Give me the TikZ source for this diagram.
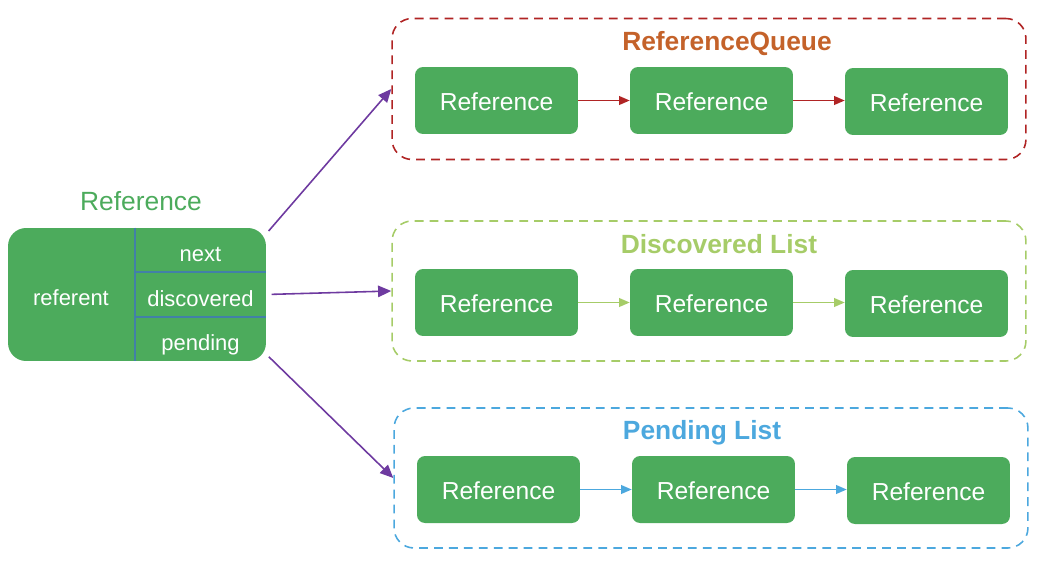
\documentclass[tikz,border=0pt]{standalone}
\usepackage{fontspec}
\setmainfont{Liberation Sans}
\usetikzlibrary{arrows.meta}

\definecolor{refgreen}{RGB}{76,171,92}
\definecolor{divblue}{RGB}{66,128,168}
\definecolor{linkpurple}{RGB}{110,58,160}
\definecolor{queuered}{RGB}{176,36,36}
\definecolor{queuetitle}{RGB}{196,98,42}
\definecolor{discgreen}{RGB}{166,204,104}
\definecolor{pendblue}{RGB}{76,168,222}

\begin{document}
\begin{tikzpicture}[
        x=0.02cm, y=-0.02cm,
        refbox/.style={rectangle, rounded corners=0.16cm, fill=refgreen, text=white, minimum width=3.26cm, minimum height=1.34cm, text height=0.4cm, text depth=0cm, font=\fontsize{14}{16}\selectfont},
        cell/.style={rectangle, inner sep=0pt, text=white, minimum width=2.62cm, text height=0.47cm, text depth=0cm, font=\fontsize{12.5}{15}\selectfont},
        frame/.style={draw=#1, dashed, dash pattern=on 5pt off 3.5pt, line width=0.9pt, rounded corners=0.4cm, minimum width=12.68cm, minimum height=2.82cm},
        grouptitle/.style={text=#1, font=\fontsize{15}{18}\selectfont\bfseries},
        link/.style={-{Triangle[length=6pt, width=5pt]}, line width=0.8pt, draw=#1},
        pointer/.style={-{Triangle[length=7.5pt, width=6.5pt]}, line width=0.9pt, draw=linkpurple, fill=linkpurple},
        divider/.style={draw=divblue, line width=1pt}
    ]
        \useasboundingbox (0,0) rectangle (1062,565);

        % the object on the left
        \node[text=refgreen, font=\fontsize{15}{18}\selectfont] (objtitle) at (141,201) {Reference};
        \node[rectangle, rounded corners=0.36cm, fill=refgreen, minimum width=5.16cm, minimum height=2.66cm] (obj) at (137,294.5) {};
        \node[cell, minimum height=0.88cm] (nextf) at (200.5,250) {next};
        \node[cell, minimum height=0.9cm] (discf) at (200.5,294.5) {discovered};
        \node[cell, minimum height=0.88cm] (pendf) at (200.5,339) {pending};
        \node[text=white, font=\fontsize{12.5}{15}\selectfont] (referent) at (71,298) {referent};
        \draw[divider] (nextf.north west) -- (pendf.south west);
        \draw[divider] (nextf.south west) -- (nextf.south east);
        \draw[divider] (pendf.north west) -- (pendf.south east |- pendf.north);

        % groups
        \node[frame=queuered] (queue) at (709,89) {};
        \node[frame=discgreen, minimum height=2.8cm] (disc) at (709,291) {};
        \node[frame=pendblue, minimum height=2.8cm] (pend) at (711,478) {};

        \node[grouptitle=queuetitle] (queuetitle) at (727,44) {ReferenceQueue};
        \node[grouptitle=discgreen] (disctitle) at (719,244) {Discovered List};
        \node[grouptitle=pendblue] (pendtitle) at (702,433) {Pending List};

        \node[refbox] (q1) at (496.5,100.5) {Reference};
        \node[refbox] (q2) at (711.5,100.5) {Reference};
        \node[refbox] (q3) at (926.5,101.5) {Reference};

        \node[refbox] (d1) at (496.5,302.5) {Reference};
        \node[refbox] (d2) at (711.5,302.5) {Reference};
        \node[refbox] (d3) at (926.5,303.5) {Reference};

        \node[refbox] (p1) at (498.5,489.5) {Reference};
        \node[refbox] (p2) at (713.5,489.5) {Reference};
        \node[refbox] (p3) at (928.5,490.5) {Reference};

        \draw[link=queuered] (q1.east) -- (q2.west |- q1.east);
        \draw[link=queuered] (q2.east) -- (q3.west |- q2.east);
        \draw[link=discgreen] (d1.east) -- (d2.west |- d1.east);
        \draw[link=discgreen] (d2.east) -- (d3.west |- d2.east);
        \draw[link=pendblue] (p1.east) -- (p2.west |- p1.east);
        \draw[link=pendblue] (p2.east) -- (p3.west |- p2.east);

        % fields pointing into the groups
        \draw[pointer, shorten <=2pt] ([yshift=-0.12cm]nextf.north east) -- (queue.west);
        \draw[pointer, shorten <=3pt] (discf.east) -- (disc.west);
        \draw[pointer, shorten <=2pt] ([yshift=0.14cm]pendf.south east) -- (pend.west);
    \end{tikzpicture}
\end{document}
